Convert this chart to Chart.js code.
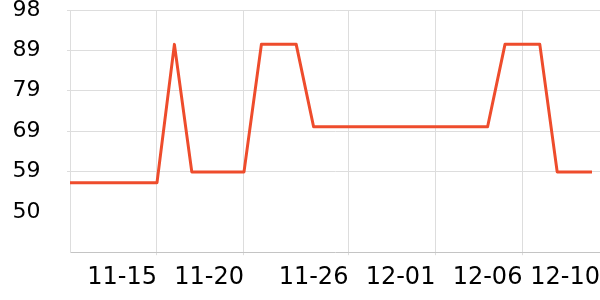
<!DOCTYPE html>
<html lang="en">
<head>
  <meta charset="UTF-8" />
  <title>Daily values</title>
  <script src="https://cdn.jsdelivr.net/npm/chart.js"></script>
  <style>
    body {
      margin: 0;
      background: #fff;
    }
    .wrap {
      width: 600px;
      height: 300px;
    }
  </style>
</head>
<body>
  <div class="wrap">
    <canvas id="lineChart" width="600" height="300"></canvas>
  </div>

  <script>
    // one point per day, 11-10 .. 12-10
    const dates = [
      '11-10', '11-11', '11-12', '11-13', '11-14', '11-15', '11-16', '11-17',
      '11-18', '11-19', '11-20', '11-21', '11-22', '11-23', '11-24', '11-25',
      '11-26', '11-27', '11-28', '11-29', '11-30', '12-01', '12-02', '12-03',
      '12-04', '12-05', '12-06', '12-07', '12-08', '12-09', '12-10'
    ];
    const values = [
      56.7, 56.7, 56.7, 56.7, 56.7, 56.7, 90.1, 59.3,
      59.3, 59.3, 59.3, 90.1, 90.1, 90.1, 70.2, 70.2,
      70.2, 70.2, 70.2, 70.2, 70.2, 70.2, 70.2, 70.2,
      70.2, 90.1, 90.1, 90.1, 59.3, 59.3, 59.3
    ];
    // which dates get a label on the x axis
    const xTickIdx = [5, 10, 16, 21, 26, 30];
    // y tick labels, bottom to top (bottom one left blank)
    const yLabels = [null, 50, 59, 69, 79, 89, 98];
    const yTop = 98.4;
    const yStep = 9.75;

    const yTickVals = yLabels.map((_, i) => yTop - (yLabels.length - 1 - i) * yStep);
    const lastIdx = dates.length - 1;

    const ctx = document.getElementById('lineChart').getContext('2d');
    const chart = new Chart(ctx, {
      type: 'line',
      data: {
        datasets: [{
          data: values.map((v, i) => ({ x: i, y: v })),
          borderColor: '#ee4c2c',
          borderWidth: 3,
          borderJoinStyle: 'round',
          pointRadius: 0,
          tension: 0,
          fill: false
        }]
      },
      options: {
        responsive: false,
        animation: false,
        layout: {
          padding: { left: 12.5, top: 10, right: 0, bottom: 0 }
        },
        plugins: {
          legend: { display: false },
          tooltip: { enabled: false }
        },
        scales: {
          x: {
            type: 'linear',
            min: 0,
            max: 30.46,
            // the last label is pinned to the right edge so it stays clear of its neighbour
            afterBuildTicks: s => {
              s.ticks = xTickIdx.map(v => ({ value: v === lastIdx ? s.max : v }));
            },
            // let the plot run right up to the canvas edge
            afterFit: s => { s.paddingRight = 0; },
            ticks: {
              autoSkip: false,
              maxRotation: 0,
              align: 'end',
              padding: 8,
              color: '#000',
              font: { family: 'DejaVu Sans', size: 24 },
              callback: v => dates[Math.round(v)]
            },
            grid: {
              color: c => (c.tick && c.tick.value > lastIdx) ? 'rgba(0,0,0,0)' : '#dddddd',
              tickLength: 3
            },
            border: { color: '#c4c4c4' }
          },
          y: {
            min: yTickVals[0],
            max: yTop,
            afterBuildTicks: s => { s.ticks = yTickVals.map(v => ({ value: v })); },
            // fixed axis width so the labels sit well left of the axis line
            afterFit: s => { s.width = 57.5; },
            ticks: {
              padding: 0,
              crossAlign: 'far',
              color: '#000',
              font: { family: 'DejaVu Sans', size: 22, lineHeight: 0.9 },
              callback: (v, i) => yLabels[i]
            },
            grid: {
              color: c => c.index === 0 ? 'rgba(0,0,0,0)' : '#dddddd',
              tickLength: 3
            },
            border: { color: '#dddddd' }
          }
        }
      }
    });
  </script>
</body>
</html>
